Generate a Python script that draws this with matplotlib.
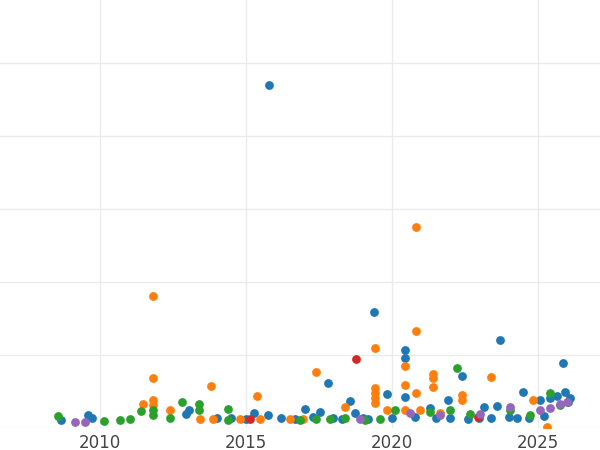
import matplotlib
matplotlib.use("Agg")
import matplotlib.pyplot as plt

blue_x = [2015.79,2019.38,2023.70,2020.45,2020.45,2025.86,2017.81,2022.40,2018.56,2019.83,2024.49,2025.92,2020.45,
          2009.59,2009.73,2008.66,2013.05,2012.95,2015.27,2015.75,2017.02,2017.53,2018.73,2021.30,2021.92,2023.15,
          2023.60,2025.07,2025.41,2025.65,2026.10,2026.03,
          2014.0,2014.5,2015.0,2016.2,2016.7,2017.3,2018.0,2018.3,2019.0,2019.2,2020.0,2020.8,2021.5,2022.0,2022.6,
          2023.0,2023.4,2024.0,2024.3,2024.7,2025.2]
blue_y = [4.70,1.59,1.21,1.07,0.96,0.89,0.62,0.71,0.37,0.47,0.49,0.49,0.42,
          0.18,0.14,0.11,0.25,0.19,0.21,0.18,0.26,0.22,0.21,0.27,0.38,0.29,
          0.30,0.38,0.41,0.44,0.41,0.36,
          0.13,0.14,0.12,0.13,0.12,0.15,0.13,0.12,0.14,0.12,0.13,0.15,0.14,0.13,0.12,
          0.14,0.13,0.15,0.14,0.13,0.16]
orange_x = [2020.82,2011.82,2020.82,2019.42,2017.40,2021.40,2021.40,2023.39,2011.82,2013.80,2020.45,2021.40,2019.42,
            2019.42,2019.42,2019.42,2020.82,2015.38,2020.45,2011.82,2011.82,2011.47,2012.40,2022.40,2022.40,2018.39,
            2019.83,2024.83,2025.31,2013.42,2013.87,2014.79,2015.48,2016.51,2016.95,2020.45,2020.96,2021.64]
orange_y = [2.75,1.81,1.33,1.10,0.77,0.74,0.68,0.70,0.68,0.58,0.85,0.56,0.55,
            0.48,0.41,0.34,0.48,0.44,0.59,0.38,0.32,0.33,0.25,0.45,0.38,0.29,
            0.25,0.38,0.01,0.12,0.12,0.12,0.12,0.12,0.12,0.25,0.25,0.21]
green_x = [2022.23,2008.56,2010.14,2010.68,2011.03,2011.40,2011.82,2011.82,2012.40,2012.81,2013.39,2013.39,2014.38,
           2014.38,2016.85,2017.40,2017.88,2018.39,2019.08,2019.59,2020.10,2021.30,2021.99,2022.67,2024.04,2025.41,
           2024.73,2025.75]
green_y = [0.82,0.16,0.10,0.11,0.12,0.23,0.25,0.18,0.14,0.36,0.33,0.25,0.26,
           0.11,0.11,0.12,0.12,0.14,0.11,0.12,0.25,0.22,0.25,0.19,0.25,0.48,
           0.18,0.32]
red_x = [2018.77,2015.14,2022.95]
red_y = [0.95,0.12,0.15]
purple_x = [2009.14,2009.49,2018.90,2020.62,2023.01,2024.04,2025.07,2025.41,2025.75,2025.99,2021.64]
purple_y = [0.08,0.08,0.12,0.21,0.19,0.29,0.25,0.27,0.33,0.36,0.18]

series = [(blue_x, blue_y, "#1f77b4"), (orange_x, orange_y, "#ff7f0e"),
          (green_x, green_y, "#2ca02c"), (red_x, red_y, "#d62728"),
          (purple_x, purple_y, "#9467bd")]

fig = plt.figure(figsize=(6, 4.5), dpi=100)
ax = fig.add_axes([0, 0.049, 1, 0.951])
for xs, ys, c in series:
    ax.scatter(xs, ys, s=40, color=c, linewidths=0, zorder=3)
ax.set_xlim(2006.58, 2027.13)
ax.set_ylim(0, 5.86)
ax.set_xticks([2010, 2015, 2020, 2025])
ax.set_yticks([0, 1, 2, 3, 4, 5])
ax.set_yticklabels([])
ax.tick_params(length=0, labelsize=12, labelcolor="#444444", pad=4)
ax.tick_params(axis="y", left=False)
ax.grid(color="#ebebeb", linewidth=1, zorder=0)
for s in ax.spines.values():
    s.set_visible(False)
fig.savefig("out.png")
